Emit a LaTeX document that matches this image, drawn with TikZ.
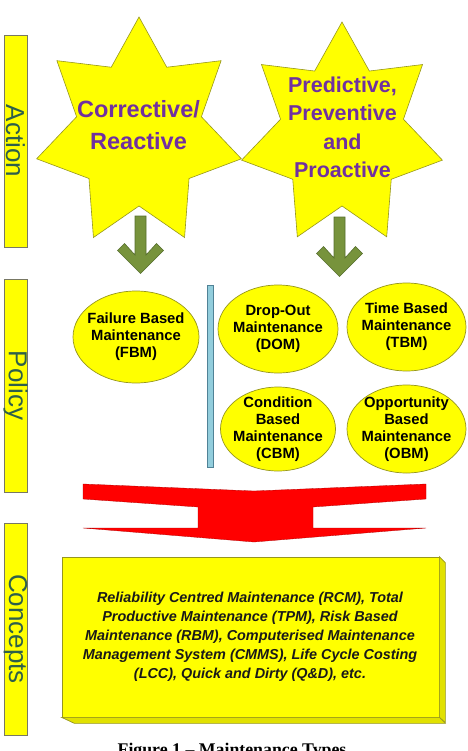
\documentclass[tikz,border=0pt]{standalone}
\usepackage{fontspec}
\setmainfont{Liberation Sans}
\newfontfamily\capfont{Liberation Serif}
\usetikzlibrary{shapes.geometric}
\definecolor{yel}{RGB}{255,255,0}
\definecolor{yelside}{RGB}{225,225,0}
\definecolor{olive1}{RGB}{150,150,30}
\definecolor{barline}{RGB}{120,120,100}
\definecolor{labelgreen}{RGB}{45,95,75}
\definecolor{purp}{RGB}{112,48,160}
\definecolor{arrowgreen}{RGB}{119,147,60}
\definecolor{arrowline}{RGB}{85,110,45}
\definecolor{lblue}{RGB}{146,205,220}
\definecolor{lblueline}{RGB}{80,130,150}
\definecolor{redfill}{RGB}{255,0,0}
\tikzset{
  bar/.style={draw=barline, fill=yel, line width=0.6pt, inner sep=0pt, minimum width=23pt},
  sidelabel/.style={rotate=-90, text=labelgreen, font=\fontsize{26}{30}\selectfont, inner sep=0pt},
  starshape/.style={draw=olive1, fill=yel, line width=0.6pt, line join=miter},
  startext/.style={text=purp, align=center, inner sep=0pt},
  polell/.style={ellipse, draw=olive1, fill=yel, line width=0.7pt, inner sep=0pt},
  poltext/.style={align=center, inner sep=0pt, font=\bfseries\fontsize{14.8}{17}\selectfont},
  greenarrow/.style={fill=arrowgreen, draw=arrowline, line width=0.6pt, line join=miter},
  redarrow/.style={fill=redfill, draw=red!70!black, line width=0.3pt},
  boxfront/.style={draw=olive1, fill=yel, line width=0.7pt, inner sep=0pt},
  boxside/.style={draw=olive1, fill=yelside, line width=0.7pt},
}
\begin{document}
\begin{tikzpicture}[x=1pt,y=-1pt]
\useasboundingbox (0,0) rectangle (467,751);

% side bars
\node[bar, minimum height=212pt] (actionbar) at (15.5,141) {};
\node[sidelabel] (actionlbl) at (actionbar.center) {Action};
\node[bar, minimum height=213pt] (policybar) at (15.5,385.5) {};
\node[sidelabel] (policylbl) at (policybar.center) {Policy};
\node[bar, minimum height=212pt] (conceptsbar) at (15.5,629) {};
\node[sidelabel] (conceptslbl) at (conceptsbar.center) {Concepts};

% stars
\begin{scope}[shift={(139,133)}]
  \draw[starshape] (-90:105 and 116) \foreach \k in {0,...,6} { -- ({-90+(\k+0.5)*360/7}:64 and 73) -- ({-90+(\k+1)*360/7}:105 and 116) } -- cycle;
\end{scope}
\begin{scope}[shift={(342,135)}]
  \draw[starshape] (-90:103 and 113) \foreach \k in {0,...,6} { -- ({-90+(\k+0.5)*360/7}:63 and 71) -- ({-90+(\k+1)*360/7}:103 and 113) } -- cycle;
\end{scope}
\node[startext, font=\bfseries\fontsize{23.5}{32}\selectfont] (corr) at (138.5,125) {Corrective/\\Reactive};
\node[startext, font=\bfseries\fontsize{21.5}{28.5}\selectfont] (pred) at (342.5,127.5) {Predictive,\\Preventive\\and\\Proactive};

% green arrows
\begin{scope}[shift={(140.5,216)}]
  \draw[greenarrow] (-5.5,0) -- (5.5,0) -- (5.5,39) -- (16,27.5) -- (23,34.5) -- (0,57.5) -- (-23,34.5) -- (-16,27.5) -- (-5.5,39) -- cycle;
\end{scope}
\begin{scope}[shift={(339.5,217)}]
  \draw[greenarrow] (-5.5,0) -- (5.5,0) -- (5.5,41) -- (16,29.5) -- (23,36.5) -- (0,59.5) -- (-23,36.5) -- (-16,29.5) -- (-5.5,41) -- cycle;
\end{scope}

% blue divider
\node[draw=lblueline, fill=lblue, line width=0.6pt, minimum width=6pt, minimum height=182pt, inner sep=0pt] (divider) at (210,376) {};

% policy ellipses
\node[polell, minimum width=126pt, minimum height=92pt] (fbm) at (136,337) {};
\node[poltext] (fbmtxt) at (fbm.center) {Failure Based\\Maintenance\\(FBM)};
\node[polell, minimum width=120pt, minimum height=88pt] (dom) at (278,329) {};
\node[poltext] (domtxt) at (dom.center) {Drop-Out\\Maintenance\\(DOM)};
\node[polell, minimum width=119pt, minimum height=88pt] (tbm) at (406.5,327) {};
\node[poltext] (tbmtxt) at (tbm.center) {Time Based\\Maintenance\\(TBM)};
\node[polell, minimum width=115pt, minimum height=84pt] (cbm) at (278,429) {};
\node[poltext] (cbmtxt) at (cbm.center) {Condition\\Based\\Maintenance\\(CBM)};
\node[polell, minimum width=119pt, minimum height=88pt] (obm) at (406.5,429) {};
\node[poltext] (obmtxt) at (obm.center) {Opportunity\\Based\\Maintenance\\(OBM)};

% red arrow
\draw[redarrow] (83,484) -- (254,491) -- (426,484) -- (426,499) -- (313,507) -- (313,528) -- (426,528) -- (254,542) -- (83,528) -- (198,528) -- (198,507) -- (83,499) -- cycle;

% concepts box
\node[boxfront, minimum width=377pt, minimum height=160pt] (concepts) at (250.5,637) {};
\draw[boxside] (concepts.north east) -- ++(6,6) -- ++(0,160) -- (concepts.south east) -- cycle;
\draw[boxside] (concepts.south west) -- (concepts.south east) -- ++(6,6) -- ++(-371,0) -- cycle;
\node[align=center, inner sep=0pt, text=black!90, font=\bfseries\itshape\fontsize{14.4}{19}\selectfont] (conceptstxt) at (250,636.5)
  {Reliability Centred Maintenance (RCM), Total\\Productive Maintenance (TPM), Risk Based\\Maintenance (RBM), Computerised Maintenance\\Management System (CMMS), Life Cycle Costing\\(LCC), Quick and Dirty (Q\&D), etc.};

% caption
\node[anchor=base, inner sep=0pt, font=\capfont\bfseries\fontsize{17.8}{20}\selectfont] (caption) at (232,755) {Figure 1 – Maintenance Types};
\end{tikzpicture}
\end{document}
